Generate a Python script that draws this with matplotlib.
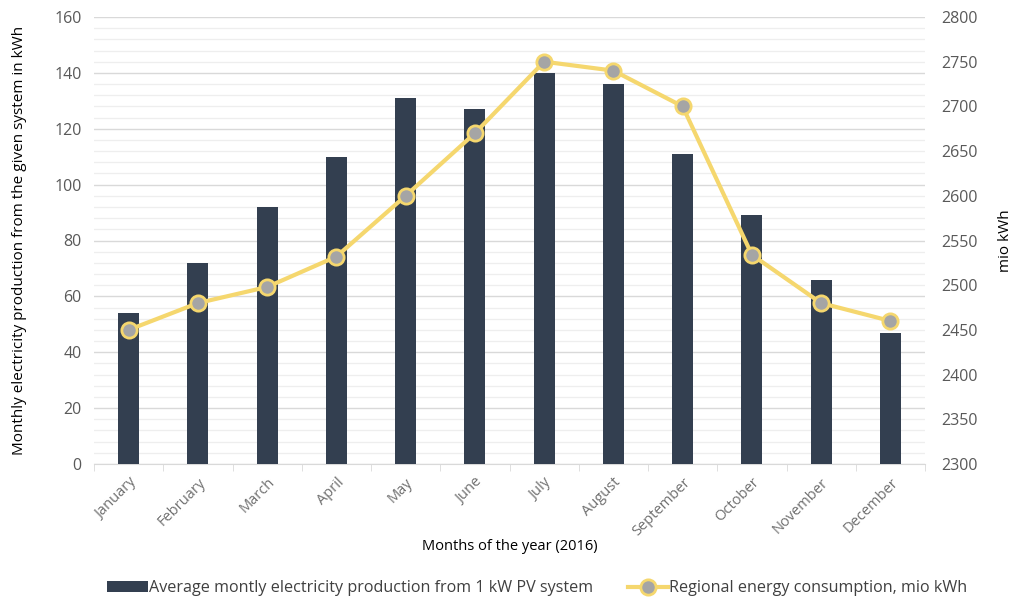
import numpy as np
import matplotlib.pyplot as plt
from matplotlib.ticker import MultipleLocator

plt.rcParams['font.family'] = ['Open Sans', 'DejaVu Sans']

months = ['January', 'February', 'March', 'April', 'May', 'June', 'July',
          'August', 'September', 'October', 'November', 'December']
pv_production = [54, 72, 92, 110, 131, 127, 140, 136, 111, 89, 66, 47]
consumption = [2450, 2480, 2498, 2532, 2600, 2670, 2750, 2740, 2700, 2534, 2480, 2460]

bar_color = '#333F50'
line_color = '#F5D76E'
marker_color = '#A5A5A5'
text_gray = '#595959'

fig = plt.figure(figsize=(10.14, 5.99), dpi=100)
ax = fig.add_axes([94 / 1014, 1 - 464 / 599, 831 / 1014, 447 / 599])
ax2 = ax.twinx()

x = np.arange(len(months))
bars = ax.bar(x, pv_production, width=0.3, color=bar_color, zorder=3,
              label='Average montly electricity production from 1 kW PV system')
ax.set_xlim(-0.5, len(months) - 0.5)
ax.set_ylim(0, 160)
ax.yaxis.set_major_locator(MultipleLocator(20))
ax.yaxis.set_minor_locator(MultipleLocator(4))
ax.grid(axis='y', which='major', color='#D9D9D9', linewidth=1.0, zorder=0)
ax.grid(axis='y', which='minor', color='#EEEEEE', linewidth=0.9, zorder=0)
ax.set_axisbelow(True)

line, = ax2.plot(x, consumption, color=line_color, linewidth=3.0, marker='o',
                 markersize=11, markerfacecolor=marker_color,
                 markeredgecolor=line_color, markeredgewidth=2.0, zorder=4,
                 label='Regional energy consumption, mio kWh')
ax2.set_ylim(2300, 2800)
ax2.yaxis.set_major_locator(MultipleLocator(50))

for a in (ax, ax2):
    for s in ('top', 'left', 'right'):
        a.spines[s].set_visible(False)
ax2.spines['bottom'].set_visible(False)
ax.spines['bottom'].set_color('#D9D9D9')

# month labels centred on bars, tick marks on category boundaries
ax.set_xticks(x)
ax.set_xticklabels(months, rotation=45, ha='right', rotation_mode='anchor',
                   color='#707070', fontsize=10.5)
ax.tick_params(axis='x', which='major', length=0, pad=8)
ax.set_xticks(np.arange(-0.5, len(months)), minor=True)
ax.tick_params(axis='x', which='minor', length=5, color='#D9D9D9')

ax.tick_params(axis='y', which='both', length=0, labelcolor=text_gray,
               labelsize=11.5, pad=9)
ax2.tick_params(axis='y', length=0, labelcolor=text_gray, labelsize=11.5, pad=12)

ax.set_xlabel('Months of the year (2016)', fontsize=10.5, labelpad=0)
ax.set_ylabel('Monthly electricity production from the given system in kWh',
              fontsize=11)
ax.yaxis.set_label_coords(-0.0806, 0.5)
ax2.set_ylabel('mio kWh', fontsize=11)
ax2.yaxis.set_label_coords(1.0875, 0.5)

fig.legend(handles=[bars, line], loc='lower center', ncol=2, frameon=False,
           bbox_to_anchor=(0.53, -0.02), fontsize=11.6, handlelength=2.5,
           handletextpad=0.05, columnspacing=2.2, labelcolor='#404040')

fig.savefig('out.png', dpi=100)
